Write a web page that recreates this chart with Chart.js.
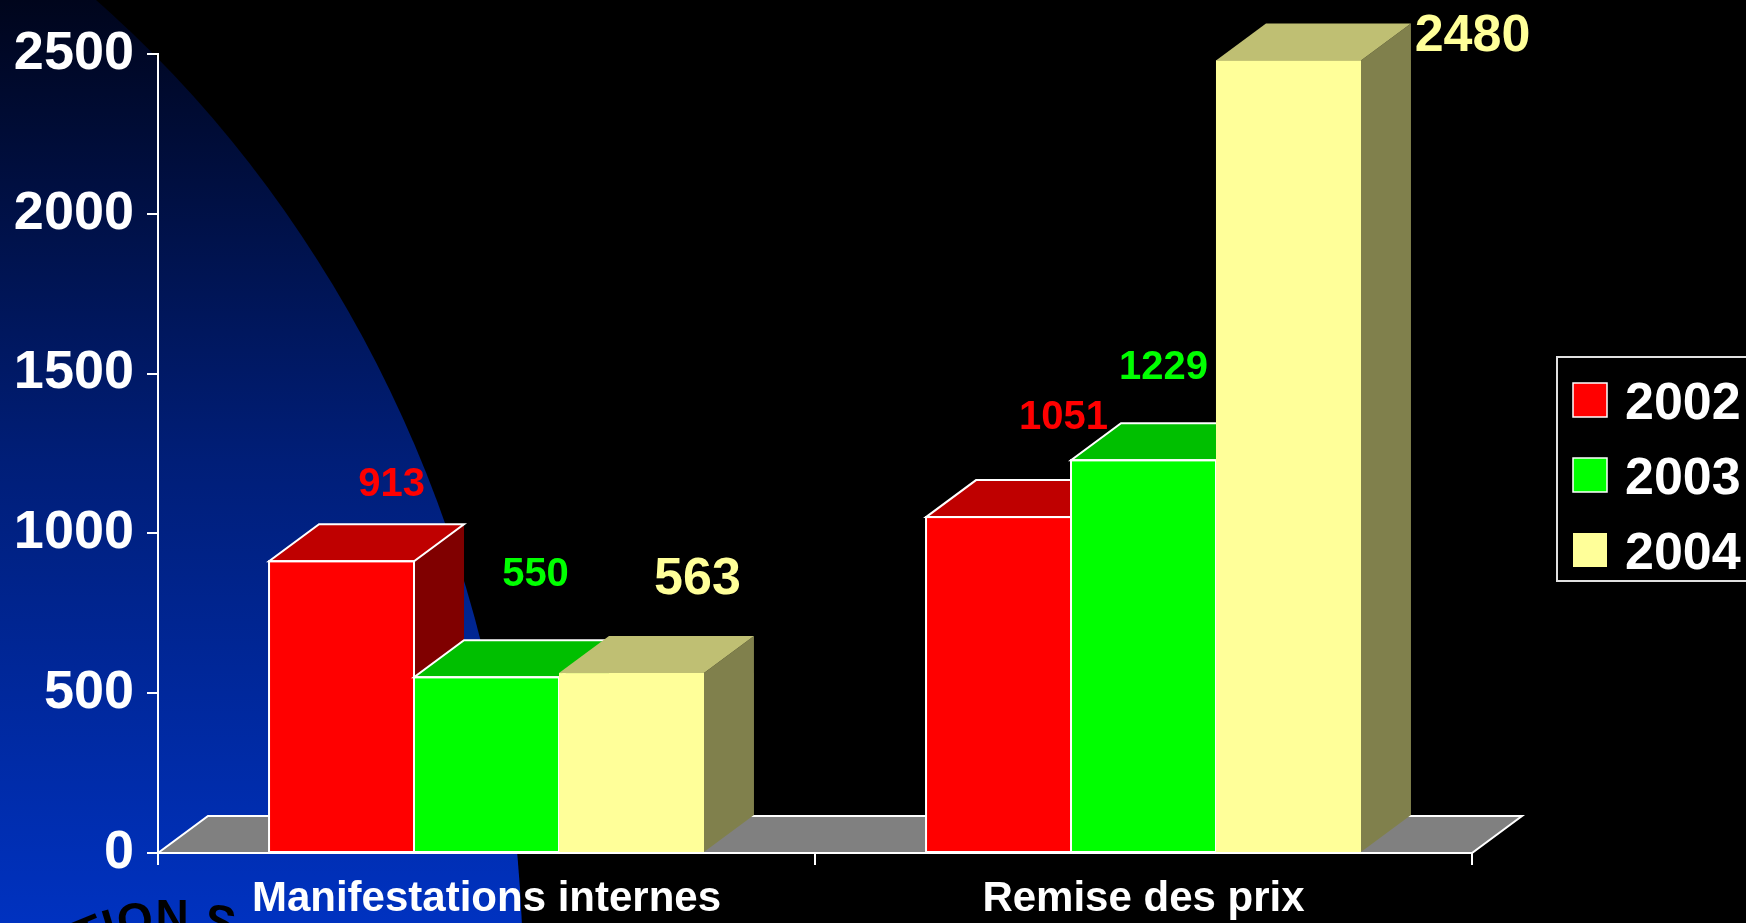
<!DOCTYPE html>
<html><head><meta charset="utf-8">
<script src="https://cdn.jsdelivr.net/npm/chart.js@4"></script>
<style>html,body{margin:0;padding:0;background:#000;overflow:hidden}#wrap{width:1746px;height:923px;position:relative}</style>
</head><body><div id="wrap"><canvas id="c"></canvas></div>
<script>
// ---- data ----
const categories = ['Manifestations internes', 'Remise des prix'];
const seriesNames = ['2002', '2003', '2004'];
const values2002 = [913, 1051];
const values2003 = [550, 1229];
const values2004 = [563, 2480];
const yTickValues = [0, 500, 1000, 1500, 2000, 2500];

// ---- styles ----
const FONT = '"Liberation Sans", Arial, sans-serif';
const frontColors = ['#FF0000', '#00FF00', '#FFFF99'];
const topColors = ['#BF0000', '#00BF00', '#BFBF73'];
const sideColors = ['#800000', '#008000', '#80804C'];
const edgeColors = ['#FFFFFF', '#FFFFFF', null];
const labelFontSizes = [40, 40, 52];
// label centre offsets relative to the projected top-back centre of each bar [dataset][category]
const labelOffsets = [[[0, -43], [15, -65]], [[-1, -69], [-30, -59]], [[16, -61], [134, 9]]];
const DX = 50, DY = 37;
const decoText = 'ATION S';

function drawBackground(chart) {
  const ctx = chart.ctx, W = chart.width, H = chart.height;
  ctx.save();
  ctx.fillStyle = '#000';
  ctx.fillRect(0, 0, W, H);
  const g = ctx.createLinearGradient(0, 0, 0, H);
  g.addColorStop(0, 'rgb(0,5,28)');
  g.addColorStop(0.5, 'rgb(0,30,120)');
  g.addColorStop(1, 'rgb(0,50,192)');
  ctx.fillStyle = g;
  ctx.beginPath();
  ctx.ellipse(-603, 980, 1126, 1250, 0, 0, Math.PI * 2);
  ctx.fill();

  // curved decorative text
  const cx = 172, cy = 1132, R = 200, fs = 46;
  ctx.font = 'bold ' + fs + 'px ' + FONT;
  ctx.fillStyle = '#000';
  ctx.textAlign = 'center';
  ctx.textBaseline = 'alphabetic';
  const widths = [...decoText].map(ch => ctx.measureText(ch).width);
  const nIdx = decoText.indexOf('N');
  let acc = 0; const centers = [];
  for (let i = 0; i < decoText.length; i++) { centers.push(acc + widths[i] / 2); acc += widths[i]; }
  const ref = centers[nIdx];
  for (let i = 0; i < decoText.length; i++) {
    const a = (centers[i] - ref) / R;
    ctx.save();
    ctx.translate(cx, cy);
    ctx.rotate(a);
    ctx.fillText(decoText[i], 0, -R);
    ctx.restore();
  }
  ctx.restore();
}

const bg = { id: 'bg', beforeDraw: drawBackground };

const floor = {
  id: 'floor',
  beforeDatasetsDraw(chart) {
    const ctx = chart.ctx, a = chart.chartArea;
    const b = chart.scales.y.getPixelForValue(0);
    ctx.save();
    ctx.beginPath();
    ctx.moveTo(a.left, b); ctx.lineTo(a.right, b);
    ctx.lineTo(a.right + DX, b - DY); ctx.lineTo(a.left + DX, b - DY); ctx.closePath();
    ctx.fillStyle = '#808080'; ctx.fill();
    ctx.strokeStyle = '#FFFFFF'; ctx.lineWidth = 2; ctx.stroke();
    ctx.restore();
  }
};

const bars3d = {
  id: 'bars3d',
  afterDatasetsDraw(chart) {
    const ctx = chart.ctx;
    ctx.save();
    const n = chart.data.labels.length;
    for (let i = 0; i < n; i++) {
      chart.data.datasets.forEach((ds, d) => {
        const el = chart.getDatasetMeta(d).data[i];
        const p = el.getProps(['x', 'y', 'base', 'width'], true);
        const L = p.x - p.width / 2, Rr = p.x + p.width / 2, T = p.y, B = p.base;
        ctx.beginPath();
        ctx.moveTo(Rr, T); ctx.lineTo(Rr + DX, T - DY); ctx.lineTo(Rr + DX, B - DY); ctx.lineTo(Rr, B); ctx.closePath();
        ctx.fillStyle = sideColors[d]; ctx.fill();
        ctx.fillStyle = frontColors[d];
        ctx.fillRect(L, T, Rr - L, B - T);
        ctx.beginPath();
        ctx.moveTo(L, T); ctx.lineTo(Rr, T); ctx.lineTo(Rr + DX, T - DY); ctx.lineTo(L + DX, T - DY); ctx.closePath();
        ctx.fillStyle = topColors[d]; ctx.fill();
        if (edgeColors[d]) {
          ctx.strokeStyle = edgeColors[d]; ctx.lineWidth = 2;
          ctx.stroke();
          ctx.strokeRect(L, T, Rr - L, B - T);
        }
      });
    }
    chart.data.datasets.forEach((ds, d) => {
      const meta = chart.getDatasetMeta(d);
      ctx.font = 'bold ' + labelFontSizes[d] + 'px ' + FONT;
      ctx.fillStyle = frontColors[d];
      ctx.textAlign = 'center';
      ctx.textBaseline = 'alphabetic';
      meta.data.forEach((el, i) => {
        const p = el.getProps(['x', 'y'], true);
        const o = labelOffsets[d][i];
        const cxp = p.x + DX + o[0], cyp = p.y - DY + o[1];
        ctx.fillText(String(ds.data[i]), cxp, cyp + 0.358 * labelFontSizes[d]);
      });
    });
    ctx.restore();
  }
};

const legend3d = {
  id: 'legend3d',
  afterDraw(chart) {
    const ctx = chart.ctx;
    ctx.save();
    ctx.strokeStyle = '#E0E0E0'; ctx.lineWidth = 2;
    ctx.strokeRect(1557, 357, 260, 224);
    ctx.font = 'bold 52px ' + FONT;
    ctx.textAlign = 'left'; ctx.textBaseline = 'alphabetic';
    chart.data.datasets.forEach((ds, d) => {
      const yc = 400 + d * 75;
      ctx.fillStyle = frontColors[d];
      ctx.fillRect(1573, yc - 17, 34, 34);
      if (edgeColors[d]) { ctx.strokeStyle = '#FFFFFF'; ctx.lineWidth = 1.5; ctx.strokeRect(1573, yc - 17, 34, 34); }
      ctx.fillStyle = '#FFFFFF';
      ctx.fillText(ds.label, 1625, yc + 0.358 * 52);
    });
    ctx.restore();
  }
};

const seriesValues = [values2002, values2003, values2004];
new Chart(document.getElementById('c'), {
  type: 'bar',
  data: {
    labels: categories,
    datasets: seriesNames.map((name, d) => ({
      label: name,
      data: seriesValues[d],
      backgroundColor: frontColors[d],
      borderWidth: 0,
      categoryPercentage: 0.662,
      barPercentage: 1.0
    }))
  },
  options: {
    responsive: true,
    maintainAspectRatio: false,
    animation: false,
    layout: { padding: { left: 0, right: 274, top: 54, bottom: 0 } },
    plugins: { legend: { display: false }, tooltip: { enabled: false } },
    scales: {
      x: {
        offset: true,
        grid: { display: true, drawOnChartArea: false, offset: true, tickLength: 12, color: '#FFFFFF', lineWidth: 2 },
        border: { display: true, color: '#FFFFFF', width: 2 },
        ticks: { color: '#FFFFFF', font: { family: FONT, size: 42, weight: 'bold' }, padding: 9, maxRotation: 0, autoSkip: false },
        afterFit(s) { s.height = 70; }
      },
      y: {
        min: 0, max: 2500,
        afterBuildTicks(s) { s.ticks = yTickValues.map(v => ({ value: v })); },
        grid: { display: true, drawOnChartArea: false, tickLength: 11, color: '#FFFFFF', lineWidth: 2 },
        border: { display: true, color: '#FFFFFF', width: 2 },
        ticks: { color: '#FFFFFF', font: { family: FONT, size: 54, weight: 'bold' }, padding: 13, callback: v => String(v) },
        afterFit(s) { s.width = 158; }
      }
    }
  },
  plugins: [bg, floor, bars3d, legend3d]
});
</script>
</body></html>
